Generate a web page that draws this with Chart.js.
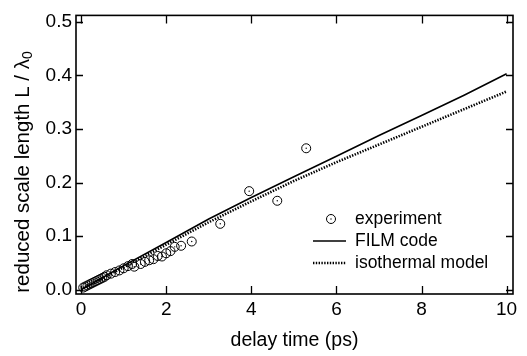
<!DOCTYPE html>
<html>
<head>
<meta charset="utf-8">
<script src="https://cdn.jsdelivr.net/npm/chart.js@4.4.1/dist/chart.umd.min.js"></script>
<style>
  html, body { margin: 0; padding: 0; background: #fff; }
  #wrap { width: 527px; height: 356px; }
</style>
</head>
<body>
<div id="wrap"><canvas id="chart" width="527" height="356"></canvas></div>
<script>
// delay time (ps) and reduced scale length for the measured points
const expTime = [0.05, 0.1, 0.15, 0.2, 0.25, 0.3, 0.35, 0.4, 0.45, 0.5, 0.55, 0.6, 0.7, 0.8, 0.9, 1.0, 1.1, 1.2, 1.25, 1.4, 1.5, 1.6, 1.7, 1.8, 1.9, 2.0, 2.1, 2.2, 2.35, 2.6, 3.27, 3.95, 4.61, 5.29];
const expValue = [0.004, 0.006, 0.008, 0.010, 0.012, 0.014, 0.016, 0.018, 0.020, 0.022, 0.024, 0.027, 0.030, 0.033, 0.036, 0.040, 0.044, 0.048, 0.043, 0.048, 0.052, 0.055, 0.057, 0.063, 0.062, 0.068, 0.072, 0.080, 0.082, 0.090, 0.123, 0.184, 0.166, 0.264];

// model curves
const modelTime = [0, 1, 2, 3, 4, 5, 6, 7, 8, 9, 10];
const filmValue = [0, 0.045, 0.088, 0.132, 0.172, 0.211, 0.249, 0.288, 0.325, 0.363, 0.403];
const isoValue = [0, 0.042, 0.084, 0.126, 0.165, 0.203, 0.238, 0.271, 0.304, 0.337, 0.370];

const xTicks = [0, 2, 4, 6, 8, 10];
const yTicks = [0.0, 0.1, 0.2, 0.3, 0.4, 0.5];

const FONT = '"Liberation Sans", Arial, Helvetica, sans-serif';

const toPoints = (xs, ys) => xs.map((x, i) => ({ x: x, y: ys[i] }));

// inward ticks, frame, y title, legend inside the plot
const decorations = {
  id: 'decorations',
  afterDatasetsDraw: (chart) => {
    const ctx = chart.ctx;
    const area = chart.chartArea;
    const xs = chart.scales.x;
    const ys = chart.scales.y;

    // small dot in the centre of each open circle
    const meta = chart.getDatasetMeta(0);
    ctx.save();
    ctx.fillStyle = '#000';
    meta.data.forEach(el => {
      ctx.beginPath();
      ctx.arc(el.x, el.y, 0.7, 0, Math.PI * 2);
      ctx.fill();
    });
    ctx.restore();

    ctx.save();
    ctx.strokeStyle = '#000';
    ctx.lineWidth = 1.6;
    ctx.strokeRect(area.left, area.top, area.right - area.left, area.bottom - area.top);

    ctx.lineWidth = 1.3;
    xTicks.forEach(v => {
      const px = Math.round(xs.getPixelForValue(v)) + 0.5;
      ctx.beginPath();
      ctx.moveTo(px, area.bottom);
      ctx.lineTo(px, area.bottom - 8);
      ctx.moveTo(px, area.top);
      ctx.lineTo(px, area.top + 8);
      ctx.stroke();
    });
    yTicks.forEach(v => {
      const py = Math.round(ys.getPixelForValue(v)) + 0.5;
      ctx.beginPath();
      ctx.moveTo(area.left, py);
      ctx.lineTo(area.left + 7, py);
      ctx.moveTo(area.right, py);
      ctx.lineTo(area.right - 7, py);
      ctx.stroke();
    });
    ctx.restore();

    // y axis title with subscript
    ctx.save();
    ctx.translate(23, 172);
    ctx.rotate(-Math.PI / 2);
    ctx.fillStyle = '#000';
    ctx.textBaseline = 'middle';
    const main = 'reduced scale length L / λ';
    ctx.font = '20.5px ' + FONT;
    const w1 = ctx.measureText(main).width;
    ctx.font = '14px ' + FONT;
    const w2 = ctx.measureText('0').width;
    const start = -(w1 + w2) / 2;
    ctx.font = '20.5px ' + FONT;
    ctx.textAlign = 'left';
    ctx.fillText(main, start, 0);
    ctx.font = '14px ' + FONT;
    ctx.fillText('0', start + w1, 5);
    ctx.restore();

    // legend
    ctx.save();
    ctx.font = '17.5px ' + FONT;
    ctx.fillStyle = '#000';
    ctx.textBaseline = 'middle';
    ctx.textAlign = 'left';
    const ds = chart.data.datasets;
    const rows = [219, 241, 263];
    ctx.strokeStyle = '#000';
    ctx.lineWidth = 1;
    ctx.beginPath();
    ctx.arc(331, rows[0], 4.5, 0, Math.PI * 2);
    ctx.stroke();
    ctx.beginPath();
    ctx.arc(331, rows[0], 0.7, 0, Math.PI * 2);
    ctx.fill();
    ctx.fillText(ds[0].label, 355, rows[0]);

    ctx.lineWidth = ds[1].borderWidth;
    ctx.beginPath();
    ctx.moveTo(313, rows[1]);
    ctx.lineTo(346, rows[1]);
    ctx.stroke();
    ctx.fillText(ds[1].label, 355, rows[1]);

    ctx.lineWidth = ds[2].borderWidth;
    ctx.setLineDash(ds[2].borderDash);
    ctx.beginPath();
    ctx.moveTo(313, rows[2]);
    ctx.lineTo(346, rows[2]);
    ctx.stroke();
    ctx.setLineDash([]);
    ctx.fillText(ds[2].label, 355, rows[2]);
    ctx.restore();
  }
};

new Chart(document.getElementById('chart').getContext('2d'), {
  type: 'scatter',
  data: {
    datasets: [
      {
        label: 'experiment',
        data: toPoints(expTime, expValue),
        pointStyle: 'circle',
        pointRadius: 4.5,
        pointBorderWidth: 1,
        borderColor: '#000',
        backgroundColor: 'rgba(255,255,255,0)',
        showLine: false,
        clip: false,
        order: 0
      },
      {
        label: 'FILM code',
        data: toPoints(modelTime, filmValue),
        showLine: true,
        borderColor: '#000',
        borderWidth: 1.6,
        pointRadius: 0,
        tension: 0,
        order: 1
      },
      {
        label: 'isothermal model',
        data: toPoints(modelTime, isoValue),
        showLine: true,
        borderColor: '#000',
        borderWidth: 2.6,
        borderDash: [1.4, 1.4],
        pointRadius: 0,
        tension: 0,
        order: 2
      }
    ]
  },
  options: {
    responsive: false,
    animation: false,
    events: [],
    layout: { padding: { top: 7, right: 14, left: 0, bottom: 0 } },
    plugins: {
      legend: { display: false },
      tooltip: { enabled: false }
    },
    scales: {
      x: {
        type: 'linear',
        min: -0.12,
        max: 10.15,
        afterFit: (scale) => { scale.height = 62; },
        grid: { display: false, drawTicks: false },
        border: { display: false },
        ticks: {
          stepSize: 2,
          includeBounds: false,
          padding: 4,
          color: '#000',
          maxRotation: 0,
          font: { family: FONT, size: 19 },
          callback: (v) => v
        },
        title: {
          display: true,
          text: 'delay time (ps)',
          color: '#000',
          font: { family: FONT, size: 19.5 },
          padding: { top: 0, bottom: 4 }
        }
      },
      y: {
        type: 'linear',
        min: -0.008,
        max: 0.512,
        afterFit: (scale) => { scale.width = 76; },
        grid: { display: false, drawTicks: false },
        border: { display: false },
        ticks: {
          stepSize: 0.1,
          includeBounds: false,
          padding: 4,
          color: '#000',
          font: { family: FONT, size: 19 },
          callback: (v) => Number(v).toFixed(1)
        }
      }
    }
  },
  plugins: [decorations]
});
</script>
</body>
</html>
